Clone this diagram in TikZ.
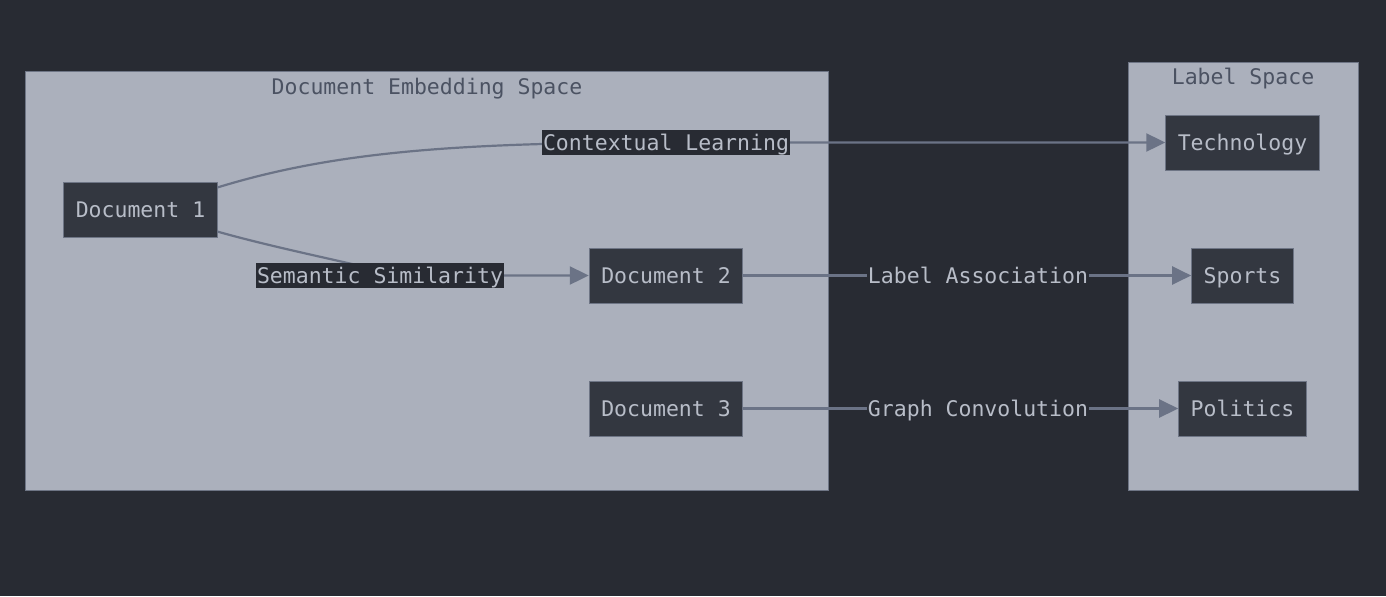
\documentclass[tikz,border=0pt]{standalone}
\usepackage{fontspec}
\setmonofont{DejaVu Sans Mono}
\usetikzlibrary{arrows.meta}
\definecolor{bgdark}{HTML}{282B33}
\definecolor{clusterfill}{HTML}{ABB0BC}
\definecolor{clusterline}{HTML}{6E7585}
\definecolor{nodefill}{HTML}{333740}
\definecolor{nodeline}{HTML}{6E7585}
\definecolor{nodetext}{HTML}{B8BDC8}
\definecolor{titletext}{HTML}{4B5262}
\definecolor{edgeline}{HTML}{6B7386}
\newcommand\diafont{\ttfamily\fontsize{10.75}{13}\selectfont}
\tikzstyle{doc} = [rectangle, 
draw=nodeline, 
line width=0.5pt, 
fill=nodefill, 
text=nodetext, 
inner xsep=6pt, 
minimum height=27.5pt, 
text height=8.5pt, text depth=0.7pt,
font=\diafont]
\tikzstyle{cluster} = [draw=clusterline, 
line width=0.5pt, 
fill=clusterfill]
\tikzstyle{clustertitle} = [text=titletext, 
inner sep=0pt, 
text height=8.5pt, text depth=0.7pt,
font=\diafont]
\tikzstyle{edgelabel} = [fill=bgdark, 
text=nodetext, 
inner xsep=0.5pt, 
inner ysep=0pt, 
minimum height=12.5pt, 
text height=8.5pt, text depth=0.7pt,
font=\diafont]
\tikzstyle{arrow} = [draw=edgeline, line width=1.1pt, -{Triangle[length=9.5pt,width=9pt]}]
\begin{document}
\begin{tikzpicture}[x=0.5pt, y=-0.5pt, node distance=66.5pt]
    \fill[bgdark] (0,0) rectangle (1386,596);

    % the two spaces
    \draw[cluster] (25,71) rectangle (828,490);
    \node (embtitle) [clustertitle] at (427,87) {Document Embedding Space};
    \draw[cluster] (1128,62) rectangle (1358,490);
    \node (labtitle) [clustertitle] at (1243,77) {Label Space};

    \node (doc1) [doc] at (140.5,209.5) {Document 1};
    \node (doc2) [doc] at (666,275.5) {Document 2};
    \node (doc3) [doc, below of=doc2] {Document 3};

    \node (tech) [doc] at (1242.5,142.5) {Technology};
    \node (sports) [doc, below of=tech] {Sports};
    \node (politics) [doc, below of=sports] {Politics};

    % where the edge labels sit
    \coordinate (ctx) at (666,142.5);
    \coordinate (sem) at (380,275.5);
    \coordinate (assoc) at (978,275.5);
    \coordinate (conv) at (978,408.5);

    \draw [arrow] (doc1.16) .. controls (330,153) and (450,142.5) .. (ctx) -- (tech.west);
    \draw [arrow] (doc1.-16) .. controls (300,255) and (420,275.5) .. (sem) -- (doc2.west);
    \draw [arrow] (doc2.east) -- (assoc) -- (sports.west);
    \draw [arrow] (doc3.east) -- (conv) -- (politics.west);

    \node (ctxlabel) [edgelabel] at (ctx) {Contextual Learning};
    \node (semlabel) [edgelabel] at (sem) {Semantic Similarity};
    \node (assoclabel) [edgelabel] at (assoc) {Label Association};
    \node (convlabel) [edgelabel] at (conv) {Graph Convolution};
\end{tikzpicture}
\end{document}
